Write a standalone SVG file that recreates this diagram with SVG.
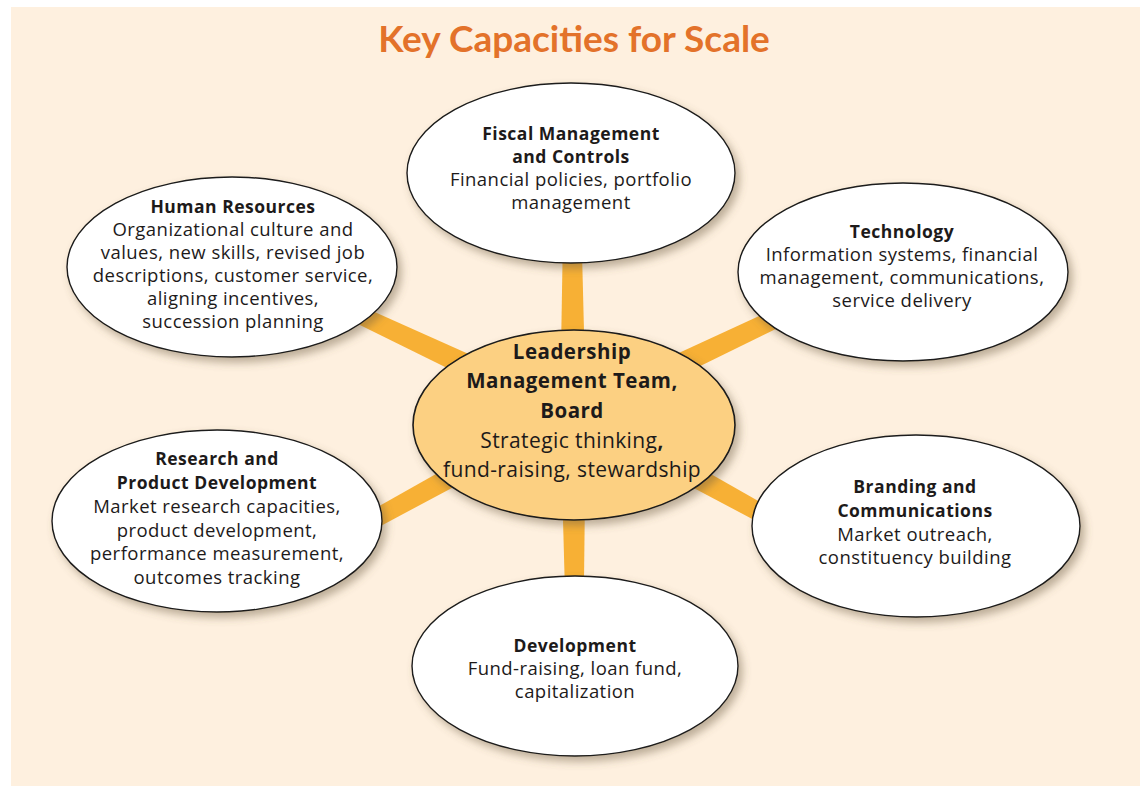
<svg xmlns="http://www.w3.org/2000/svg" width="1140" height="786" viewBox="0 0 1140 786">
<defs>
<filter id="sh" x="-20%" y="-20%" width="150%" height="150%">
<feDropShadow dx="4" dy="5" stdDeviation="4" flood-color="#6b5a40" flood-opacity="0.45"/>
</filter>
<style>
.bg{fill:#FEF0DF}
.title{font-family:Lato,"Open Sans","Liberation Sans",sans-serif;font-weight:bold;font-size:37px;fill:#E3722A}
.node{fill:#FFFFFF;stroke:#1a1a1a;stroke-width:1.4;filter:url(#sh)}
.center{fill:#FCD082;stroke:#1a1a1a;stroke-width:1.6;filter:url(#sh)}
.spoke{fill:#F7B035}
.t{font-family:"Open Sans","Liberation Sans",sans-serif;font-size:18.5px;letter-spacing:0.45px;fill:#1d1a1a;text-anchor:middle}
.b{font-weight:bold;font-size:17.5px;letter-spacing:0.5px}
.ct{font-size:21px;letter-spacing:0.4px}
.ct .b{font-size:20.5px;letter-spacing:0.5px}
</style>
</defs>
<rect x="0" y="0" width="1140" height="786" fill="#FFFFFF"/>
<rect class="bg" x="11" y="7" width="1129" height="779"/>
<text class="title" x="574" y="52" text-anchor="middle">Key Capacities for Scale</text>
<g id="connectors">
<polygon class="spoke" points="560,410 586,410 580,173 564,173"/>
<polygon class="spoke" points="560,410 586,410 583,666 567,666"/>
<polygon class="spoke" points="578,403 567,427 297,294 303,280"/>
<polygon class="spoke" points="568,404 578,426 843,296 837,280"/>
<polygon class="spoke" points="567,400 579,420 304,567 296,553"/>
<polygon class="spoke" points="579,399 567,421 826,558 834,544"/>
</g>
<g id="fiscal">
<ellipse class="node" cx="571" cy="173" rx="164" ry="90"/>
<text class="t"><tspan class="b" x="571" y="140">Fiscal Management</tspan><tspan class="b" x="571" y="163">and Controls</tspan><tspan x="571" y="186">Financial policies, portfolio</tspan><tspan x="571" y="209">management</tspan></text>
</g>
<g id="human-resources">
<ellipse class="node" cx="232" cy="267" rx="165" ry="90"/>
<text class="t"><tspan class="b" x="233" y="213">Human Resources</tspan><tspan x="233" y="236">Organizational culture and</tspan><tspan x="233" y="259">values, new skills, revised job</tspan><tspan x="233" y="282">descriptions, customer service,</tspan><tspan x="233" y="305">aligning incentives,</tspan><tspan x="233" y="328">succession planning</tspan></text>
</g>
<g id="technology">
<ellipse class="node" cx="903" cy="272" rx="165" ry="89"/>
<text class="t"><tspan class="b" x="902" y="238">Technology</tspan><tspan x="902" y="261">Information systems, financial</tspan><tspan x="902" y="284">management, communications,</tspan><tspan x="902" y="307">service delivery</tspan></text>
</g>
<g id="research">
<ellipse class="node" cx="217" cy="521" rx="165" ry="91"/>
<text class="t"><tspan class="b" x="217" y="465">Research and</tspan><tspan class="b" x="217" y="489">Product Development</tspan><tspan x="217" y="513">Market research capacities,</tspan><tspan x="217" y="537">product development,</tspan><tspan x="217" y="560">performance measurement,</tspan><tspan x="217" y="584">outcomes tracking</tspan></text>
</g>
<g id="branding">
<ellipse class="node" cx="916" cy="526" rx="164" ry="91"/>
<text class="t"><tspan class="b" x="915" y="493">Branding and</tspan><tspan class="b" x="915" y="517">Communications</tspan><tspan x="915" y="541">Market outreach,</tspan><tspan x="915" y="564">constituency building</tspan></text>
</g>
<g id="development">
<ellipse class="node" cx="575" cy="666" rx="163" ry="90"/>
<text class="t"><tspan class="b" x="575" y="652">Development</tspan><tspan x="575" y="675">Fund-raising, loan fund,</tspan><tspan x="575" y="698">capitalization</tspan></text>
</g>
<g id="leadership">
<ellipse class="center" cx="574" cy="425" rx="161" ry="95"/>
<text class="t ct"><tspan class="b" x="572" y="359">Leadership</tspan><tspan class="b" x="572" y="388">Management Team,</tspan><tspan class="b" x="572" y="418">Board</tspan><tspan x="572" y="448">Strategic thinking<tspan class="b">,</tspan></tspan><tspan x="572" y="477">fund-raising, stewardship</tspan></text>
</g>
</svg>
